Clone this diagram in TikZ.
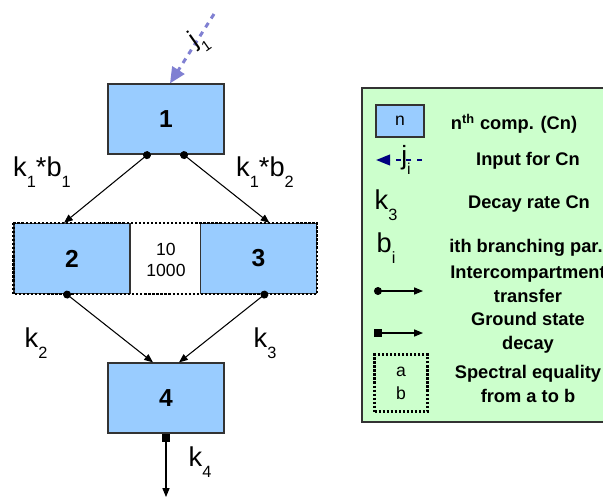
\documentclass[tikz,border=0pt]{standalone}
\usepackage{fontspec}
\setmainfont{Liberation Sans}
\usetikzlibrary{arrows.meta,calc,positioning}
\definecolor{compblue}{RGB}{153,204,255}
\definecolor{legendgreen}{RGB}{204,255,204}
\definecolor{inputblue}{RGB}{128,128,210}
\definecolor{inputnavy}{RGB}{0,0,128}
\definecolor{edgegray}{RGB}{51,51,51}
\newcommand{\dn}[1]{\raisebox{-0.4em}{\scalebox{0.6}{#1}}}

\begin{document}
\begin{tikzpicture}[x=0.02cm,y=-0.02cm,
   comp/.style={draw=edgegray,fill=compblue,line width=0.7pt,minimum width=2.32cm,
     minimum height=1.4cm,font=\fontsize{14}{16}\selectfont\bfseries},
   rate/.style={font=\fontsize{15.5}{18}\selectfont},
   legtext/.style={font=\fontsize{10.4}{13.5}\selectfont\bfseries,align=center},
   transfer/.style={line width=0.6pt,{Circle[length=4.5pt]}-{Triangle[length=5pt,width=4pt]}},
   ground/.style={line width=0.6pt,{Square[length=4.5pt]}-{Triangle[length=5pt,width=4pt]}},
   equal/.style={draw,densely dotted,line width=1.3pt}]
   \useasboundingbox (0,0) rectangle (603,498);

   % compartments
   \node[comp] (b1) at (166,119) {1};
   \node[comp] (b2) at (72,258.5) {2};
   \node[comp] (b3) at (258.5,258.5) {3};
   \node[comp] (b4) at (166,398) {4};
   \draw[equal] (b2.north west) rectangle (b3.south east);
   \node[font=\fontsize{10}{12}\selectfont,align=center] (eq23) at (166,260) {10\\1000};

   % input
   \coordinate (jin) at (214,14);
   \draw[inputblue,dashed,line width=1.7pt,-{Triangle[length=9pt,width=8pt]}]
     (jin) -- ($(b1.north)+(4,0)$);
   \node[rotate=35,font=\fontsize{14}{16}\selectfont] (jlab) at (199,40) {j\dn{1}};

   % transfers
   \draw[transfer] ($(b1.south)+(-16,-2)$) -- ($(b2.north)+(-8,0)$);
   \draw[transfer] ($(b1.south)+(15,-2)$) -- ($(b3.north)+(11,0)$);
   \draw[transfer] ($(b2.south)+(-8,-2)$) -- ($(b4.north)+(-13,0)$);
   \draw[transfer] ($(b3.south)+(9,-2)$) -- ($(b4.north)+(13,0)$);
   \coordinate (sink) at (166,497);
   \draw[ground] (b4.south) -- (sink);

   \node[rate] (k1b1) at (42,172) {k\dn{1}*b\dn{1}};
   \node[rate] (k1b2) at (265,172) {k\dn{1}*b\dn{2}};
   \node[rate] (k2) at (36,343) {k\dn{2}};
   \node[rate] (k3) at (265,343) {k\dn{3}};
   \node[rate] (k4) at (200,462) {k\dn{4}};

   % legend
   \draw[draw=edgegray,fill=legendgreen,line width=0.6pt] (362,88) rectangle (620,422);
   \node[draw=edgegray,fill=compblue,line width=0.6pt,minimum width=0.96cm,minimum height=0.64cm,
     font=\fontsize{10}{12}\selectfont] (legn) at (400,121) {n};
   \node[legtext] (legntxt) at (514,124) {n\textsuperscript{th} comp. (Cn)};

   \coordinate (legjA) at (422,160);
   \coordinate (legjB) at (376,160);
   \draw[inputnavy,dashed,line width=1.3pt,-{Triangle[length=8pt,width=6pt]}] (legjA) -- (legjB);
   \node[font=\fontsize{15}{17}\selectfont] (legj) at (406,160) {j\dn{i}};
   \node[legtext] (legjtxt) at (528,161) {Input for Cn};

   \node[rate] (legk) at (386,205) {k\dn{3}};
   \node[legtext] (legktxt) at (529,204) {Decay rate Cn};

   \node[rate] (legb) at (386,248) {b\dn{i}};
   \node[legtext] (legbtxt) at (526,248) {ith branching par.};

   \coordinate (legtA) at (374,291);
   \coordinate (legtB) at (423,291);
   \draw[transfer] (legtA) -- (legtB);
   \node[legtext] (legttxt) at (528,284) {Intercompartment\\transfer};

   \coordinate (leggA) at (374,333);
   \coordinate (leggB) at (423,333);
   \draw[ground] (leggA) -- (leggB);
   \node[legtext] (leggtxt) at (528,333) {Ground state\\decay};

   \node[equal,minimum width=1.06cm,minimum height=1.14cm,align=center,
     font=\fontsize{10}{13}\selectfont] (legeq) at (401,383) {a\\b};
   \node[legtext] (legeqtxt) at (528,384) {Spectral equality\\from a to b};
\end{tikzpicture}
\end{document}
